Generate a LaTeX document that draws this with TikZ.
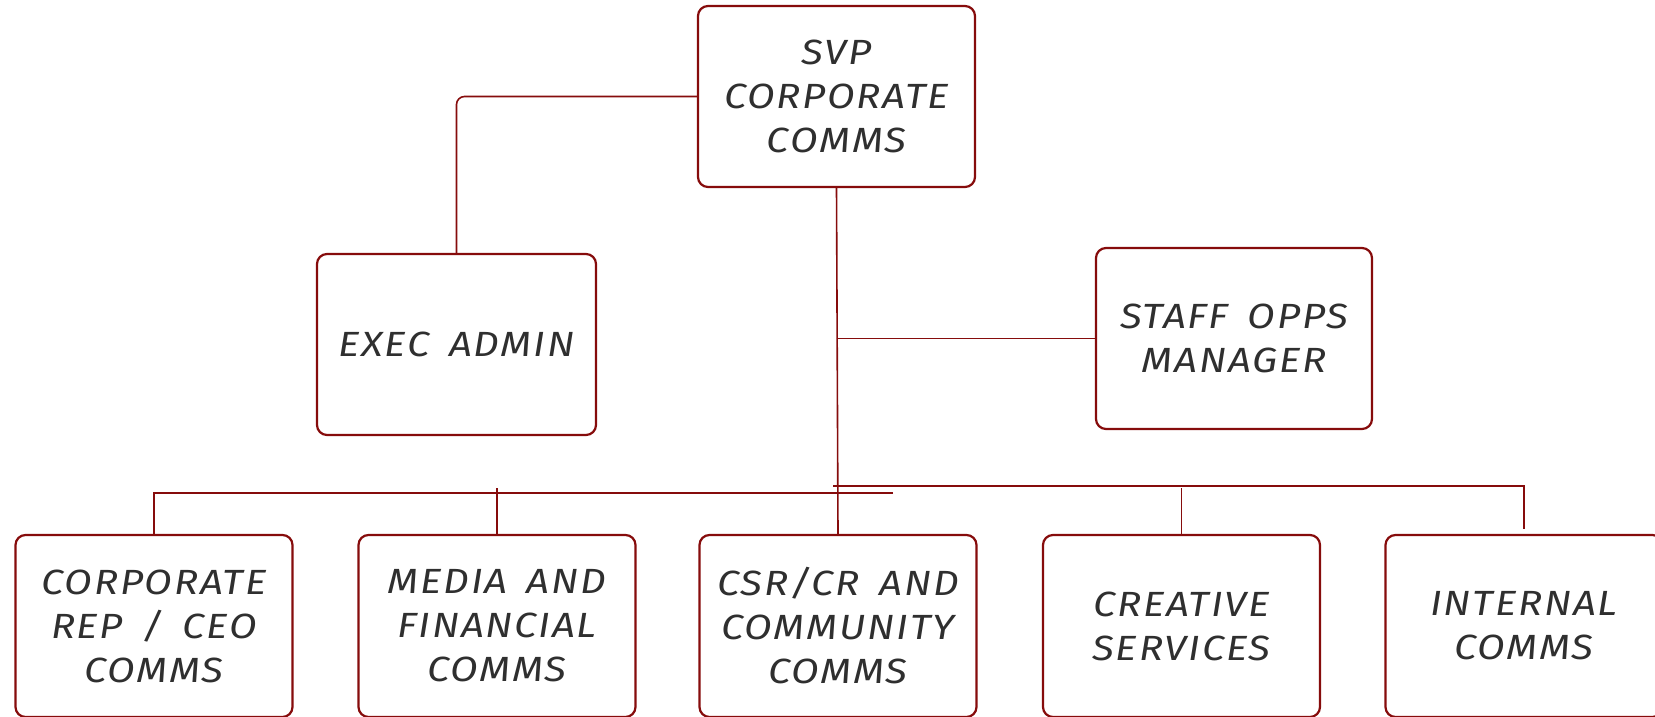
\documentclass[tikz,border=0pt]{standalone}
\usepackage{fontspec}
\setmainfont{Fira Sans}[FakeStretch=1.15, LetterSpace=5, WordSpace=1.6]
\usetikzlibrary{calc}
\definecolor{ink}{HTML}{860C0C}
\definecolor{txt}{HTML}{2F2F2F}
\tikzset{
  role/.style={draw=ink, line width=2.2pt, rounded corners=10pt, fill=white,
    align=center, text=txt, font=\fontsize{35}{44}\selectfont\itshape,
    minimum width=277pt, minimum height=181pt, inner sep=0pt},
  link/.style={draw=ink, line width=1.6pt}
}
\begin{document}
\begin{tikzpicture}[x=1pt, y=-1pt]
  \useasboundingbox (0,0) rectangle (1655,717);
  \clip (0,0) rectangle (1655,717);

  % top of the chart
  \node[role] (svp) at (836.5,96.5) {SVP\\CORPORATE\\COMMS};
  \node[role, minimum width=279pt] (exec) at (456.5,344.5) {EXEC ADMIN};
  \node[role, minimum width=276pt] (staff) at (1234,338.5) {STAFF OPPS\\MANAGER};

  % departments
  \node[role, minimum height=182pt] (corp) at (154,626) {CORPORATE\\REP / CEO\\COMMS};
  \node[role, minimum height=182pt] (media) at (497,626) {MEDIA AND\\FINANCIAL\\COMMS};
  \node[role, minimum height=182pt] (csr) at (838,626) {CSR/CR AND\\COMMUNITY\\COMMS};
  \node[role, minimum height=182pt] (creative) at (1181.5,626) {CREATIVE\\SERVICES};
  \node[role, minimum height=182pt] (internal) at (1524,626) {INTERNAL\\COMMS};

  % bus ends
  \coordinate (busA) at (893,493);
  \coordinate (busB) at (833,486);

  % connectors
  \draw[link, rounded corners=8pt] (svp.west) -| (exec.north);
  \draw[link] (svp.south) -- (csr.north);
  \draw[link] (svp.south |- staff.west) -- (staff.west);
  \draw[link] (busA) -- (corp.north |- busA) -- (corp.north);
  \draw[link] (media.north) -- ++(0,-46);
  \draw[link] (creative.north) -- ++(0,-46);
  \draw[link] (busB) -- (internal.north |- busB) -- ($(internal.north)+(0,-5)$);
\end{tikzpicture}
\end{document}
